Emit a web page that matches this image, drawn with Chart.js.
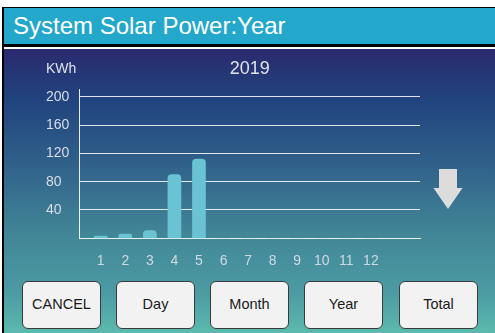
<!DOCTYPE html>
<html>
<head>
<meta charset="utf-8">
<script src="https://cdn.jsdelivr.net/npm/chart.js@4/dist/chart.umd.min.js"></script>
<style>
  html, body { margin: 0; padding: 0; background: #fff; }
  body { width: 495px; height: 333px; position: relative; overflow: hidden;
         font-family: "Liberation Sans", Arial, sans-serif; }
  .abs { position: absolute; }
  #topline { left: 2px; top: 7px; width: 493px; height: 1px; background: #000; }
  #leftline { left: 2px; top: 7px; width: 2px; height: 326px; background: #000; }
  #titlebar { left: 4px; top: 8px; width: 491px; height: 36px; background: #23a7cb;
              color: #fff; font-size: 24px; line-height: 36px; padding-left: 9px; box-sizing: border-box; }
  #sep1 { left: 4px; top: 44px; width: 491px; height: 3px; background: #000; }
  #sep2 { left: 4px; top: 47px; width: 491px; height: 2px; background: #fff; }
  #panel { left: 4px; top: 49px; width: 491px; height: 284px;
           background: linear-gradient(to bottom, #2a2a6e 0%, #21447e 18%, #30608a 40%, #428797 66%, #4c9ba3 86%, #5cbaae 100%); }
  #chartBox { left: 0; top: 50px; width: 495px; height: 215px; }
  #arrow { left: 433px; top: 169px; }
  .btn { position: absolute; top: 281px; width: 79px; height: 48px; box-sizing: border-box;
         border: 1.5px solid #3a3a3a; border-radius: 6px; background: #f2f2f2;
         color: #1a1a1a; font-size: 14.5px; line-height: 45px; text-align: center; }
</style>
</head>
<body>
<div class="abs" id="panel"></div>
<div class="abs" id="topline"></div>
<div class="abs" id="leftline"></div>
<div class="abs" id="titlebar">System Solar Power:Year</div>
<div class="abs" id="sep1"></div>
<div class="abs" id="sep2"></div>

<div class="abs" id="chartBox"><canvas id="yearChart"></canvas></div>

<svg class="abs" id="arrow" width="30" height="41" viewBox="0 0 30 41">
  <polygon points="6,0 24,0 24,19 29.5,19 15,40 0.5,19 6,19" fill="#dcdcdc"/>
</svg>

<div class="btn" style="left:22px">CANCEL</div>
<div class="btn" style="left:116px">Day</div>
<div class="btn" style="left:210px">Month</div>
<div class="btn" style="left:304px">Year</div>
<div class="btn" style="left:399px">Total</div>

<script>
const year = "2019";
const unit = "KWh";
const months = [1, 2, 3, 4, 5, 6, 7, 8, 9, 10, 11, 12];
const energy = [3, 6, 11, 90, 112, 0, 0, 0, 0, 0, 0, 0];
const yTicks = [40, 80, 120, 160, 200];

Chart.defaults.font.family = '"Liberation Sans", Arial, sans-serif';

// KWh unit and year caption above the plot area
const captions = {
    id: 'captions',
    afterDraw(chart) {
        const ctx = chart.ctx;
        const area = chart.chartArea;
        const y = area.top - 20.5;
        ctx.save();
        ctx.fillStyle = '#dfe3ec';
        ctx.textBaseline = 'middle';
        ctx.font = '14px "Liberation Sans", Arial, sans-serif';
        ctx.textAlign = 'left';
        ctx.fillText(unit, chart.scales.y.left, y);
        ctx.font = '18px "Liberation Sans", Arial, sans-serif';
        ctx.textAlign = 'center';
        ctx.fillText(year, (area.left + area.right) / 2, y);
        ctx.restore();
    }
};

new Chart(document.getElementById("yearChart"), {
    type: 'bar',
    data: {
        datasets: [{
            data: months.map((m, i) => ({ x: m, y: energy[i] })),
            backgroundColor: '#6ac3d3',
            barThickness: 13,
            borderRadius: 4,
            borderSkipped: 'start'
        }]
    },
    options: {
        responsive: true,
        maintainAspectRatio: false,
        animation: false,
        layout: { padding: { top: 39.6, left: 46, right: 75, bottom: 0 } },
        plugins: {
            legend: { display: false },
            tooltip: { enabled: false }
        },
        scales: {
            x: {
                type: 'linear',
                offset: false,
                min: 0.135,
                max: 14,
                afterBuildTicks: (scale) => { scale.ticks = months.map(v => ({ value: v })); },
                afterFit: (scale) => { scale.height = 26.7; },
                grid: { display: false },
                border: { display: true, color: 'rgba(255,255,255,0.9)', width: 1 },
                ticks: { color: '#d2d9e2', font: { size: 14 }, padding: 6, maxRotation: 0,
                         autoSkip: false, callback: (v) => v }
            },
            y: {
                min: 0,
                max: 210,
                afterBuildTicks: (scale) => { scale.ticks = yTicks.map(v => ({ value: v })); },
                afterFit: (scale) => { scale.width = 33.5; },
                grid: { color: 'rgba(255,255,255,0.85)', lineWidth: 1, drawTicks: false },
                border: { display: true, color: 'rgba(255,255,255,0.9)', width: 1 },
                ticks: { color: '#d8dde8', font: { size: 14 }, crossAlign: 'far', padding: 8 }
            }
        }
    },
    plugins: [captions]
});
</script>
</body>
</html>
